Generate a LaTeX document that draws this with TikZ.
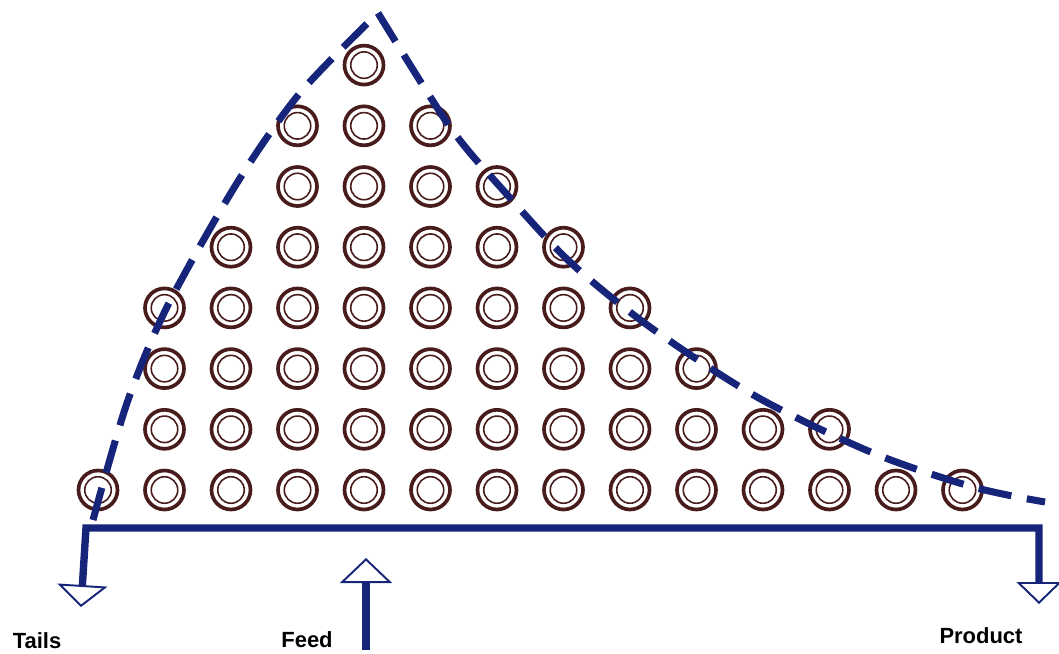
\documentclass[tikz,border=0pt]{standalone}
\usepackage{fontspec}
\setsansfont{Liberation Sans}
\usepackage{tikz}
\usetikzlibrary{arrows.meta, positioning}
\definecolor{ringbrown}{RGB}{72, 28, 28}
\definecolor{flownavy}{RGB}{22, 36, 122}

\begin{document}
\begin{tikzpicture}[x=0.02cm, y=-0.02cm,
    stage/.style={circle, draw=ringbrown, line width=2.1pt, minimum size=0.78cm, inner sep=0pt,
      path picture={\draw[ringbrown, line width=0.9pt] (path picture bounding box.center) circle[radius=0.265cm];}},
    flow/.style={flownavy, line width=4.2pt},
    envelope/.style={flownavy, line width=4pt, dash pattern=on 19pt off 9pt},
    label/.style={font=\sffamily\bfseries\fontsize{12.5}{14}\selectfont, text=black}]
  \useasboundingbox (0,0) rectangle (1059,653);

  % Stages of the cascade
  \foreach \row/\first/\last in {0/0/13, 1/1/11, 2/1/9, 3/1/8, 4/2/7, 5/3/6, 6/3/5, 7/4/4}
    \foreach \col in {\first,...,\last}
      \node[stage] (s-\row-\col) at ({98+66.5*\col}, {490-60.7*\row}) {};

  % Envelope of the square cascade
  \draw[envelope] plot[smooth, tension=0.5] coordinates {(93,520) (127,403) (167,307) (237,183) (300,93) (378,13)};
  \draw[envelope] plot[smooth, tension=0.5] coordinates {(378,13) (450,127) (503,190) (570,262) (650,327) (757,397) (873,453) (973,487) (1045,502)};

  % Streams
  \coordinate (tl) at (86,528);
  \coordinate (tr) at (1039,528);
  \coordinate (tailsend) at (81,607);
  \coordinate (productend) at (1039,604);
  \coordinate (feedstart) at (366,650);
  \coordinate (feedend) at (366,558);
  \draw[flow, {Triangle[open, length=0.44cm, width=1cm, line width=1.1pt]}-{Triangle[open, length=0.44cm, width=0.9cm, line width=1.1pt]}]
    (tailsend) -- (tl) -- (tr) -- (productend);
  \draw[flow, -{Triangle[open, length=0.5cm, width=1.04cm, line width=1.1pt]}] (feedstart) -- (feedend);

  \node[label] (tails) at (37,641) {Tails};
  \node[label] (feed) at (307,640) {Feed};
  \node[label] (product) at (981,636) {Product};
\end{tikzpicture}
\end{document}
